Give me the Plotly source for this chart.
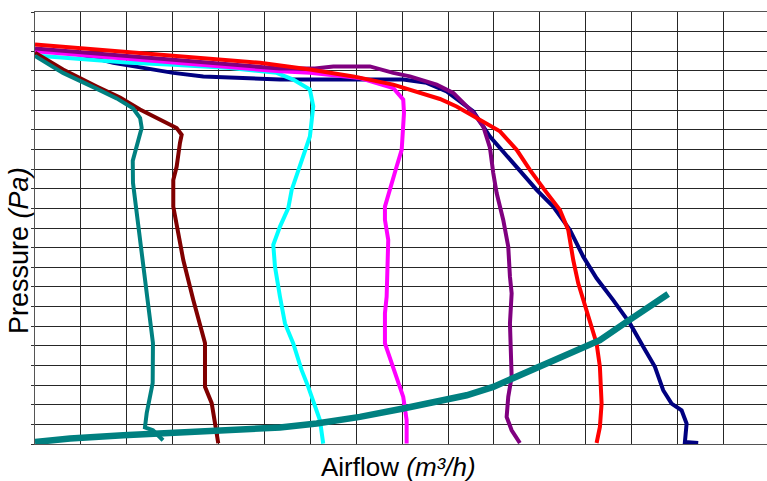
import plotly.graph_objects as go

# ---- data (airflow m3/h, pressure Pa) ----
teal_x = [0, 61, 134, 178, 213.5, 229, 232.5, 221.6, 213, 213.5, 220, 229, 239.6, 250.5, 257, 256.4, 243.4, 239.6, 257, 278.9]
teal_y = [197.6, 189, 181, 176, 171, 166, 161, 150.9, 144.2, 133.0, 120.9, 102.4, 82, 64.7, 51.4, 31, 15.7, 8.5, 7, 1.9]

darkred_x = [0, 61, 134.4, 185.2, 228.8, 278.9, 308.7, 319.6, 315.9, 308.7, 301.3, 301.3, 312.2, 323.1, 344.9, 370.4, 370.4, 385, 392.2, 399.3]
darkred_y = [199.3, 190.7, 182.1, 176.4, 170.3, 164.3, 160.9, 157.5, 153.4, 141.3, 134.5, 120.9, 107.5, 93.7, 73.3, 51.4, 29.1, 20.8, 10.6, 0.4]

cyan_x = [0, 207, 301.3, 424.8, 526.6, 562.7, 599, 606.3, 599, 577.3, 559.3, 551.9, 533.8, 519.2, 522.9, 533.8, 544.7, 562.7, 581, 595.4, 610, 620.9, 628]
cyan_y = [197.8, 194.1, 193.2, 191.5, 189, 185.6, 180.5, 171.9, 156.6, 141.3, 129.4, 120.1, 110.7, 101.4, 90.3, 75, 61.4, 51.2, 37.6, 29.1, 18.9, 12.1, 0.2]

magenta_x = [0, 207, 533.8, 599, 708, 780.6, 802.4, 804, 799, 788, 762.5, 762.5, 769.7, 766.2, 762.5, 762.5, 777.1, 791.5, 802.4, 809.8, 809.8]
magenta_y = [200, 196, 189.8, 189, 186.4, 181.3, 175.4, 168.6, 149.8, 141.3, 120.9, 114.1, 103.9, 75, 66.5, 51.2, 41, 32.5, 24, 12.1, 0.2]

purple_x = [0, 533.8, 610, 650, 729.8, 780.6, 816.9, 875.2, 911.3, 955, 976.7, 991.3, 998.5, 1005.9, 1020.3, 1031.2, 1034.9, 1038.6, 1034.9, 1038.6, 1031.2, 1027.7, 1038.6, 1056.6]
purple_y = [201.4, 191.2, 191.2, 192.3, 192.3, 189, 187.2, 183, 178.8, 168.6, 161.7, 150.9, 138, 127.8, 114.1, 100.5, 85.2, 76.7, 61.4, 34.2, 24, 13.8, 7, 0.5]

navy_x = [0, 100, 170.6, 243.4, 301.3, 366.7, 533.8, 708, 802.4, 853.4, 897, 925.9, 955, 991.3, 1034.9, 1093, 1129.2, 1165.6, 1194.6, 1223.7, 1259.9, 1296.3, 1325.3, 1350.8, 1368.8, 1387.1, 1408.9, 1419.8, 1416.1, 1445.1]
navy_y = [200.8, 198.3, 194.1, 191.5, 189, 187.2, 185.6, 185.6, 185.6, 183.9, 179.6, 174.5, 169.4, 156.6, 144.7, 129.4, 120.9, 109, 95.4, 84.4, 73.3, 61.4, 49.5, 39.3, 27.4, 20.6, 17.2, 10.4, 1, 0.5]

red_x = [0, 490.2, 599.1, 693.5, 780.6, 853.4, 882.4, 918.7, 969.5, 1013.1, 1049.5, 1078.4, 1107.4, 1143.8, 1161.9, 1172.8, 1183.7, 1201.9, 1223.7, 1230.9, 1234.6, 1230.9, 1223.7]
red_y = [203.4, 194.1, 190.7, 187.2, 183, 177.9, 175.7, 171.9, 165.2, 159.2, 149.8, 139.6, 130.3, 119.2, 109, 93.7, 81.8, 68.2, 51.2, 39.3, 20.6, 8.7, 0.5]

system_x = [0, 76.3, 192.4, 279.5, 352.3, 424.8, 533.8, 613.7, 708, 802.4, 875.2, 940.5, 998.5, 1034.9, 1085.6, 1158.4, 1230.9, 1289.1, 1339.9, 1379.7]
system_y = [1, 2.8, 4.4, 5.3, 6.5, 7.3, 8.4, 10.4, 13.8, 18.1, 21.4, 24.8, 29.1, 32.9, 37.6, 45.3, 52.9, 62.2, 69.9, 76.4]

x_title = "Airflow <i>(m³/h)</i>"
y_title = "Pressure <i>(Pa)</i>"

series = [
    (navy_x, navy_y, "#000080", 4),
    (cyan_x, cyan_y, "#00FFFF", 4),
    (magenta_x, magenta_y, "#FF00FF", 4),
    (purple_x, purple_y, "#800080", 4),
    (red_x, red_y, "#FF0000", 4),
    (darkred_x, darkred_y, "#800000", 4),
    (teal_x, teal_y, "#008080", 4),
    (system_x, system_y, "#008080", 6.5),
]

fig = go.Figure()
for xs, ys, col, w in series:
    fig.add_trace(go.Scatter(x=xs, y=ys, mode="lines",
                             line=dict(color=col, width=w), showlegend=False,
                             hoverinfo="skip"))

grid_col = "#262626"
fig.update_layout(
    width=767, height=481,
    margin=dict(l=35, r=0, t=12, b=37),
    paper_bgcolor="white", plot_bgcolor="white",
    font=dict(family="Liberation Sans, Arial, sans-serif", color="black"),
    xaxis=dict(range=[0, 1595], dtick=100, tick0=0, showgrid=True,
               gridcolor=grid_col, gridwidth=1, showticklabels=False,
               showline=True, linecolor="#555555", linewidth=1, mirror=True,
               zeroline=False, ticks="", fixedrange=True),
    yaxis=dict(range=[0, 220], dtick=10, tick0=0, showgrid=True,
               gridcolor=grid_col, gridwidth=1, showticklabels=False,
               showline=True, linecolor="#555555", linewidth=1,
               zeroline=False, ticks="outside", ticklen=3, tickcolor="#333333",
               fixedrange=True),
    annotations=[
        dict(text=x_title, xref="paper", yref="paper", x=0.496, y=-0.053,
             xanchor="center", yanchor="middle", showarrow=False,
             font=dict(size=26, color="black")),
        dict(text=y_title, xref="paper", yref="paper", x=-0.022, y=0.449,
             xanchor="center", yanchor="middle", showarrow=False, textangle=-90,
             font=dict(size=27, color="black")),
    ],
)

fig.write_html(
    "out.html",
    config={"displayModeBar": False, "staticPlot": True},
    post_script="document.body.style.margin='0';document.body.style.overflow='hidden';",
)
